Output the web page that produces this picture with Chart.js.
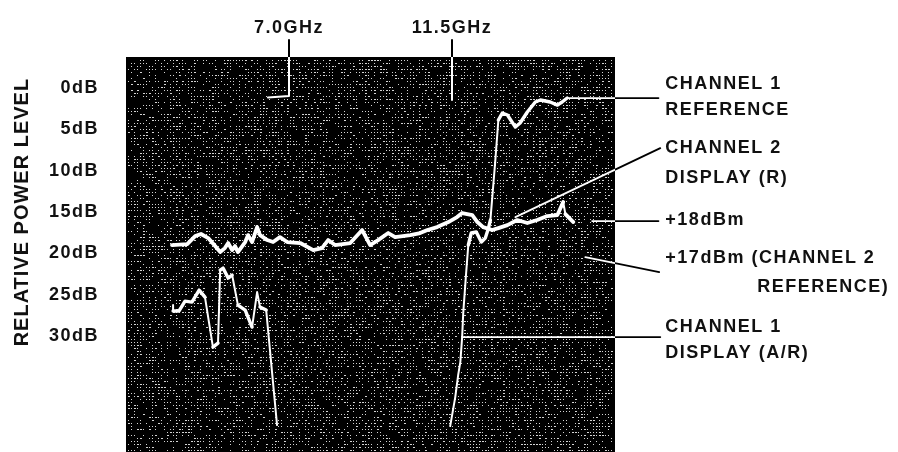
<!DOCTYPE html>
<html><head><meta charset="utf-8">
<script src="https://cdn.jsdelivr.net/npm/chart.js@4/dist/chart.umd.min.js"></script>
<style>html,body{margin:0;padding:0;background:#fff;overflow:hidden}#wrap{width:898px;height:452px}</style>
</head><body><div id="wrap"><canvas id="c" width="898" height="452"></canvas></div>
<script>
// ---- data (frequency in GHz, relative power level in dB) ----
const yTitle = 'RELATIVE POWER LEVEL';
const levelTicks = [0, 5, 10, 15, 20, 25, 30];
const markerFreq = [7.0, 11.5];
const markerTopLevel = [-5.8, -5.8];
const markerBottomLevel = [0.95, 1.45];

const ch2Freq = [3.77,4.19,4.41,4.57,4.77,4.96,5.10,5.23,5.32,5.43,5.51,5.59,5.79,5.87,5.98,6.12,6.20,6.40,6.56,6.75,6.95,7.31,7.67,7.91,8.08,8.27,8.69,9.02,9.24,9.46,9.74,9.93,10.35,10.62,10.82,11.09,11.40,11.64,11.78,12.06,12.20,12.36,12.61,12.78,13.03,13.30,13.58,13.85,14.13,14.41,14.57,14.63,14.85];
const ch2Level = [18.98,18.86,17.90,17.65,18.14,19.11,19.83,19.35,18.74,19.59,19.11,19.83,18.62,17.78,18.62,16.81,17.78,18.38,18.62,18.02,18.62,18.74,19.59,19.35,18.38,18.98,18.74,17.17,18.98,18.38,17.53,18.02,17.78,17.53,17.17,16.81,16.20,15.60,15.11,15.36,16.20,16.81,17.17,16.93,16.57,15.96,16.32,15.96,15.48,15.36,13.78,15.24,16.20];

const ch1Freq = [3.80,3.80,3.96,4.13,4.32,4.52,4.68,4.90,5.04,5.10,5.18,5.32,5.43,5.59,5.79,5.98,6.12,6.20,6.37,6.67,9.00,11.45,11.59,11.67,11.73,11.78,11.81,11.89,11.95,12.03,12.17,12.31,12.42,12.50,12.56,12.69,12.78,12.89,13.03,13.25,13.38,13.58,13.80,13.94,14.21,14.41,14.54,14.68];
const ch1Level = [26.24,26.96,26.96,25.76,25.88,24.43,25.27,31.32,30.83,22.01,21.77,22.97,22.61,26.24,26.84,28.90,24.67,26.48,26.84,40.75,null,40.87,37.36,34.70,33.13,30.11,27.21,22.37,18.98,17.53,17.41,18.62,18.14,17.05,15.96,9.07,3.87,3.02,3.26,4.72,4.23,2.90,1.69,1.45,1.69,2.06,1.69,1.21];

// leader lines from traces to the callouts
const leaderStartFreq = [14.71, 13.25, 15.37, 15.18, 11.78];
const leaderStartLevel = [1.21, 15.60, 16.08, 20.44, 30.11];
const leaderEndFreq = [17.20, 17.25, 17.20, 17.22, 17.25];
const leaderEndLevel = [1.21, 7.26, 16.08, 22.25, 30.11];

// callout texts
const noteText = ['CHANNEL 1','REFERENCE','CHANNEL 2','DISPLAY (R)','+18dBm','+17dBm (CHANNEL 2','REFERENCE)','CHANNEL 1','DISPLAY (A/R)'];
const noteFreq = [17.39,17.39,17.39,17.39,17.39,17.39,19.93,17.39,17.39];
const noteLevel = [-0.48,2.66,7.26,10.88,15.96,20.56,24.06,28.90,32.04];

// ---- styling / helpers ----
const FONT = "'Liberation Sans', Arial, 'DejaVu Sans', sans-serif";
const pts = (xs, ys) => xs.map((x, i) => ({x, y: ys[i]}));

function hash2(i, j) {
  let n = (Math.imul(i, 374761393) + Math.imul(j, 668265263)) | 0;
  n = Math.imul(n ^ (n >>> 13), 1274126177);
  n ^= n >>> 16;
  return (n >>> 0) / 4294967296;
}

function hColor(c) {
  const ch = c.chart, a = ch.chartArea;
  if (!a) return '#fff';
  const g = ch.ctx.createLinearGradient(a.left, 0, ch.width, 0);
  const s = (a.right - a.left) / (ch.width - a.left);
  g.addColorStop(0, '#fff'); g.addColorStop(s, '#fff');
  g.addColorStop(Math.min(1, s + 0.0005), '#000'); g.addColorStop(1, '#000');
  return g;
}
function vColor(c) {
  const ch = c.chart, a = ch.chartArea;
  if (!a) return '#fff';
  const g = ch.ctx.createLinearGradient(0, 0, 0, a.bottom);
  const s = a.top / a.bottom;
  g.addColorStop(0, '#000'); g.addColorStop(s, '#000');
  g.addColorStop(Math.min(1, s + 0.0005), '#fff'); g.addColorStop(1, '#fff');
  return g;
}
// steep (fast beam) segments are drawn thinner
const beamWidth = (thick) => (ctx) => {
  const dx = Math.abs(ctx.p1.parsed.x - ctx.p0.parsed.x);
  const dy = Math.abs(ctx.p1.parsed.y - ctx.p0.parsed.y);
  return (dx === 0 || dy / dx > 20) ? 2 : thick;
};

const datasets = [
  {label: 'CHANNEL 2 DISPLAY (R)', data: pts(ch2Freq, ch2Level), borderColor: '#fff', borderWidth: 3.8,
   segment: {borderWidth: beamWidth(3.8)}},
  {label: 'CHANNEL 1 DISPLAY (A/R)', data: pts(ch1Freq, ch1Level), borderColor: '#fff', borderWidth: 3.4,
   spanGaps: false, segment: {borderWidth: beamWidth(3.4)}}
];
leaderStartFreq.forEach((f, i) => {
  datasets.push({label: 'leader' + i, data: [{x: f, y: leaderStartLevel[i]}, {x: leaderEndFreq[i], y: leaderEndLevel[i]}],
    borderColor: hColor, borderWidth: 1.8, clip: false});
});
markerFreq.forEach((f, i) => {
  const d = [{x: f, y: markerTopLevel[i]}, {x: f, y: markerBottomLevel[i]}];
  if (i === 0) d.push({x: f - 0.58, y: markerBottomLevel[i] + 0.2});
  datasets.push({label: 'marker' + i, data: d, borderColor: vColor, borderWidth: 2, clip: false});
});

const screenPlugin = {
  id: 'screen',
  beforeDraw(chart) { chart.ctx.letterSpacing = '1.5px'; },
  beforeDatasetsDraw(chart) {
    const {ctx, chartArea: a} = chart;
    ctx.save();
    ctx.fillStyle = '#000';
    ctx.fillRect(a.left, a.top, a.right - a.left, a.bottom - a.top);
    ctx.fillStyle = '#d4d4d4';
    for (let x = Math.ceil(a.left) + 2; x < a.right - 1; x += 3) {
      for (let y = Math.ceil(a.top) + 3; y < a.bottom; y += 3) {
        const r = hash2(x, y);
        if (r < 0.5) ctx.fillRect(x, y, r < 0.12 ? 2 : 1, 1);
      }
    }
    ctx.restore();
  },
  afterDraw(chart) {
    const {ctx, scales} = chart;
    ctx.save();
    ctx.fillStyle = '#111';
    ctx.letterSpacing = '1.5px';
    ctx.font = 'bold 18px ' + FONT;
    ctx.textBaseline = 'middle';
    ctx.textAlign = 'left';
    noteText.forEach((t, i) => {
      ctx.fillText(t, scales.x.getPixelForValue(noteFreq[i]), scales.y.getPixelForValue(noteLevel[i]));
    });
    // y axis title, centred on the labelled range
    const yc = (scales.y.getPixelForValue(levelTicks[0]) + scales.y.getPixelForValue(levelTicks[levelTicks.length - 1])) / 2;
    ctx.letterSpacing = '1px';
    ctx.font = 'bold 20px ' + FONT;
    ctx.translate(22, yc);
    ctx.rotate(-Math.PI / 2);
    ctx.textAlign = 'center';
    ctx.fillText(yTitle, 0, 0);
    ctx.restore();
    ctx.letterSpacing = '0px';
  }
};

new Chart(document.getElementById('c'), {
  type: 'line',
  data: {datasets},
  options: {
    responsive: false,
    animation: false,
    layout: {padding: {left: 0, right: 283, top: 0, bottom: 0}},
    elements: {point: {radius: 0, hoverRadius: 0}, line: {tension: 0, borderJoinStyle: 'round', borderCapStyle: 'round', fill: false}},
    plugins: {legend: {display: false}, tooltip: {enabled: false}},
    events: [],
    scales: {
      x: {type: 'linear', min: 2.5, max: 16, display: false},
      x2: {type: 'linear', position: 'top', min: 2.5, max: 16,
        grid: {display: false}, border: {display: false},
        afterBuildTicks: (ax) => { ax.ticks = markerFreq.map(v => ({value: v})); },
        afterFit: (ax) => { ax.height = 57; ax.paddingLeft = 0; ax.paddingRight = 0; },
        ticks: {padding: 10, color: '#111', font: {family: FONT, size: 18, weight: 'bold'}, maxRotation: 0, autoSkip: false,
          callback: (v) => Number(v).toFixed(1) + 'GHz'}},
      y: {type: 'linear', reverse: true, min: -3.75, max: 44.0,
        grid: {display: false}, border: {display: false},
        afterBuildTicks: (ax) => { ax.ticks = levelTicks.map(v => ({value: v})); },
        afterFit: (ax) => { ax.width = 126; ax.paddingTop = 0; ax.paddingBottom = 0; },
        ticks: {padding: 19, color: '#111', font: {family: FONT, size: 18, weight: 'bold'}, autoSkip: false,
          callback: (v) => v + 'dB'}}
    }
  },
  plugins: [screenPlugin]
});
</script>
</body></html>
